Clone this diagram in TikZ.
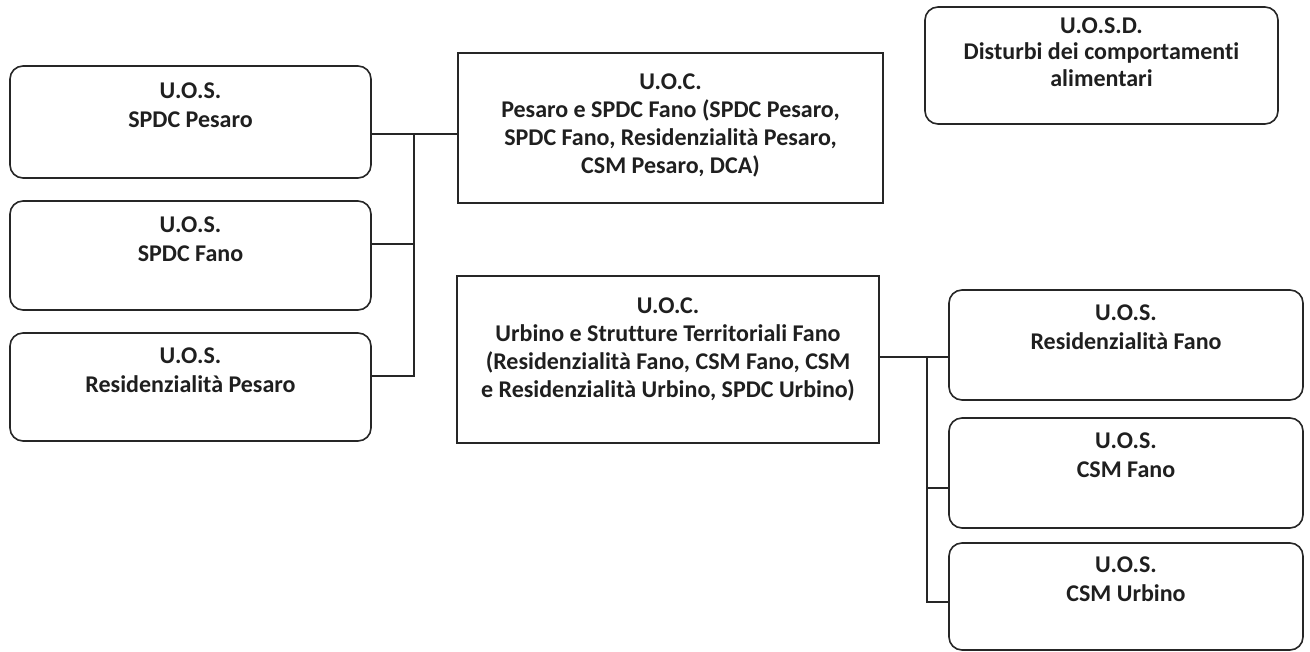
\documentclass[tikz,border=0pt]{standalone}
\usepackage{fontspec}
\setmainfont{Carlito}[Ligatures=NoCommon]
\usetikzlibrary{calc}
\begin{document}
\begin{tikzpicture}[x=1pt,y=-1pt,
  rbox/.style={draw=black!85,line width=1.6pt,rounded corners=13pt,fill=white,inner sep=0pt},
  sbox/.style={draw=black!85,line width=1.6pt,fill=white,inner sep=0pt},
  txt/.style={anchor=north,align=center,inner sep=0pt,text=black!88,font=\bfseries\fontsize{24}{29.5}\selectfont},
  txtc/.style={anchor=north,align=center,inner sep=0pt,text=black!88,font=\bfseries\fontsize{24}{28}\selectfont},
  link/.style={draw=black!85,line width=1.5pt}]
\useasboundingbox (0,0) rectangle (1310,652);
% left boxes
\node[rbox,minimum width=361pt,minimum height=112pt] (b1) at (190.5,122) {};
\node[rbox,minimum width=361pt,minimum height=109pt] (b2) at (190.5,255.5) {};
\node[rbox,minimum width=361pt,minimum height=108pt] (b3) at (190.5,387) {};
% UOC boxes
\node[sbox,minimum width=425pt,minimum height=150pt] (oc1) at (670.5,128) {};
\node[sbox,minimum width=422pt,minimum height=167pt] (oc2) at (668,359.5) {};
% UOSD
\node[rbox,minimum width=353pt,minimum height=117pt] (osd) at (1101.5,65.5) {};
% right boxes
\node[rbox,minimum width=354pt,minimum height=110pt] (r1) at (1126,345) {};
\node[rbox,minimum width=354pt,minimum height=110pt] (r2) at (1126,473) {};
\node[rbox,minimum width=354pt,minimum height=107pt] (r3) at (1126,596.5) {};
% texts
\node[txt] (t1) at ($(b1.north)+(0,17)$) {U.O.S.\\SPDC Pesaro};
\node[txt] (t2) at ($(b2.north)+(0,16)$) {U.O.S.\\SPDC Fano};
\node[txt] (t3) at ($(b3.north)+(0,15)$) {U.O.S.\\Residenzialità Pesaro};
\node[txtc] (toc1) at ($(oc1.north)+(0,21)$) {U.O.C.\\Pesaro e SPDC Fano (SPDC Pesaro,\\SPDC Fano, Residenzialità Pesaro,\\CSM Pesaro, DCA)};
\node[txtc] (toc2) at ($(oc2.north)+(0,22)$) {U.O.C.\\Urbino e Strutture Territoriali Fano\\(Residenzialità Fano, CSM Fano, CSM\\e Residenzialità Urbino, SPDC Urbino)};
\node[txt,font=\bfseries\fontsize{24}{26.5}\selectfont] (tosd) at ($(osd.north)+(0,11)$) {U.O.S.D.\\Disturbi dei comportamenti\\alimentari};
\node[txt] (tr1) at ($(r1.north)+(0,15)$) {U.O.S.\\Residenzialità Fano};
\node[txt] (tr2) at ($(r2.north)+(0,15)$) {U.O.S.\\CSM Fano};
\node[txt] (tr3) at ($(r3.north)+(0,14)$) {U.O.S.\\CSM Urbino};
% left connectors
\coordinate (busLt) at (414,134);
\coordinate (busLm) at (414,244);
\coordinate (busLb) at (414,376);
\draw[link] (b1.east |- busLt) -- (oc1.west |- busLt);
\draw[link] (b2.east |- busLm) -- (busLm);
\draw[link] (b3.east |- busLb) -- (busLb) -- (busLt);
% right connectors
\coordinate (busRt) at (927,357);
\coordinate (busRm) at (927,488);
\coordinate (busRb) at (927,602);
\draw[link] (oc2.east |- busRt) -- (r1.west |- busRt);
\draw[link] (busRt) -- (busRb) -- (r3.west |- busRb);
\draw[link] (busRm) -- (r2.west |- busRm);
\end{tikzpicture}
\end{document}
